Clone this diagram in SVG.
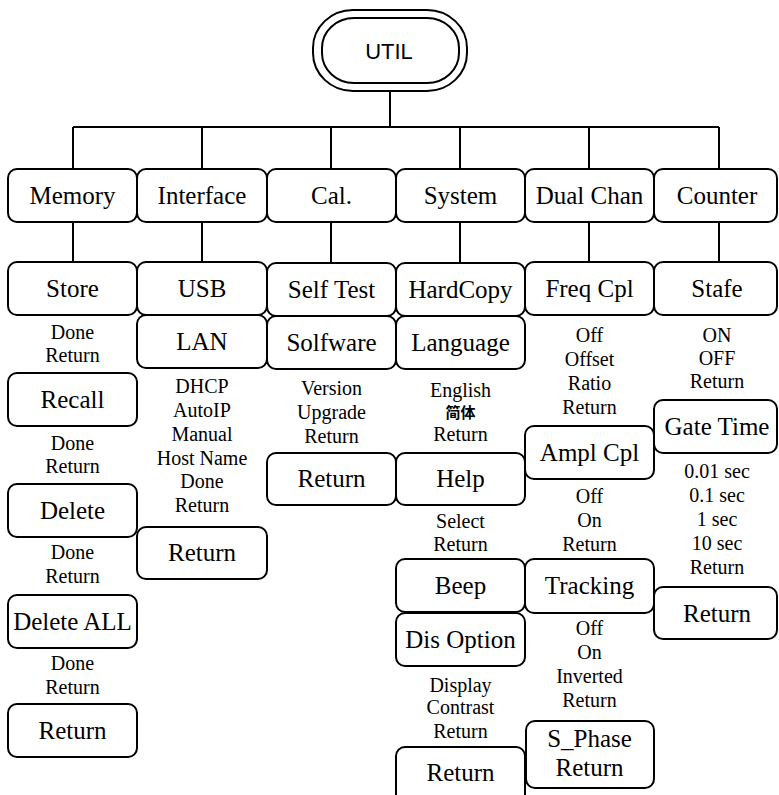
<svg xmlns="http://www.w3.org/2000/svg" width="779" height="795" viewBox="0 0 779 795">
<style>
.b{fill:#fff;stroke:#000;stroke-width:2}
.c{fill:none;stroke:#000;stroke-width:2}
text{font-family:"Liberation Serif","Times New Roman",serif;text-anchor:middle;fill:#000}
.t{font-size:25px}
.s{font-size:20px}
.u{font-family:"Liberation Sans",Arial,sans-serif;font-size:22px}
.cjk{font-family:"Noto Sans CJK SC",sans-serif;font-size:15px;font-weight:bold}
</style>
<rect width="779" height="795" fill="#fff"/>
<g id="connectors">
<path class="c" d="M390 91V127M73 127H719M73 127V169M202 127V169M331 127V169M460 127V169M589 127V169M719 127V169"/>
<path class="c" d="M73 222V262M202 222V262M331 222V263M460 222V263M589 222V262M719 222V262"/>
</g>
<g id="util">
<rect class="b" x="313" y="10" width="154" height="81" rx="40" ry="38"/>
<rect class="b" x="322" y="18" width="137" height="65" rx="32" ry="30"/>
<text class="u" x="389" y="59">UTIL</text>
</g>
<g id="memory"><rect class="b" x="8" y="169" width="129" height="53" rx="9"/><text class="t" x="72.5" y="204">Memory</text></g>
<g id="interface"><rect class="b" x="137" y="169" width="130" height="53" rx="9"/><text class="t" x="202" y="204">Interface</text></g>
<g id="cal"><rect class="b" x="267" y="169" width="129" height="53" rx="9"/><text class="t" x="331.5" y="204">Cal.</text></g>
<g id="system"><rect class="b" x="396" y="169" width="129" height="53" rx="9"/><text class="t" x="460.5" y="204">System</text></g>
<g id="dualchan"><rect class="b" x="525" y="169" width="129" height="53" rx="9"/><text class="t" x="589.5" y="204">Dual Chan</text></g>
<g id="counter"><rect class="b" x="654" y="169" width="123" height="53" rx="9"/><text class="t" x="717" y="204">Counter</text></g>

<g id="store"><rect class="b" x="8" y="262" width="129" height="53" rx="9"/><text class="t" x="72.5" y="297">Store</text></g>
<g id="store-opts"><text class="s" x="72.5" y="339">Done</text><text class="s" x="72.5" y="362">Return</text></g>
<g id="recall"><rect class="b" x="8" y="373" width="129" height="53" rx="9"/><text class="t" x="72.5" y="408">Recall</text></g>
<g id="recall-opts"><text class="s" x="72.5" y="450">Done</text><text class="s" x="72.5" y="473">Return</text></g>
<g id="delete"><rect class="b" x="8" y="484" width="129" height="53" rx="9"/><text class="t" x="72.5" y="519">Delete</text></g>
<g id="delete-opts"><text class="s" x="72.5" y="559">Done</text><text class="s" x="72.5" y="583">Return</text></g>
<g id="deleteall"><rect class="b" x="8" y="595" width="129" height="53" rx="9"/><text class="t" x="72.5" y="630">Delete ALL</text></g>
<g id="deleteall-opts"><text class="s" x="72.5" y="670">Done</text><text class="s" x="72.5" y="694">Return</text></g>
<g id="mem-return"><rect class="b" x="8" y="704" width="129" height="53" rx="9"/><text class="t" x="72.5" y="739">Return</text></g>

<g id="usb"><rect class="b" x="137" y="262" width="130" height="53" rx="9"/><text class="t" x="202" y="297">USB</text></g>
<g id="lan"><rect class="b" x="137" y="315" width="130" height="53" rx="9"/><text class="t" x="202" y="350">LAN</text></g>
<g id="lan-opts"><text class="s" x="202" y="393">DHCP</text><text class="s" x="202" y="417">AutoIP</text><text class="s" x="202" y="441">Manual</text><text class="s" x="202" y="465">Host Name</text><text class="s" x="202" y="488">Done</text><text class="s" x="202" y="512">Return</text></g>
<g id="if-return"><rect class="b" x="137" y="527" width="130" height="52" rx="9"/><text class="t" x="202" y="561">Return</text></g>

<g id="selftest"><rect class="b" x="267" y="263" width="129" height="53" rx="9"/><text class="t" x="331.5" y="298">Self Test</text></g>
<g id="solfware"><rect class="b" x="267" y="316" width="129" height="53" rx="9"/><text class="t" x="331.5" y="351">Solfware</text></g>
<g id="solfware-opts"><text class="s" x="331.5" y="395">Version</text><text class="s" x="331.5" y="419">Upgrade</text><text class="s" x="331.5" y="443">Return</text></g>
<g id="cal-return"><rect class="b" x="267" y="453" width="129" height="52" rx="9"/><text class="t" x="331.5" y="487">Return</text></g>

<g id="hardcopy"><rect class="b" x="396" y="263" width="129" height="53" rx="9"/><text class="t" x="460.5" y="298">HardCopy</text></g>
<g id="language"><rect class="b" x="396" y="316" width="129" height="53" rx="9"/><text class="t" x="460.5" y="351">Language</text></g>
<g id="language-opts"><text class="s" x="460.5" y="397">English</text><text class="cjk" x="460.5" y="418">简体</text><text class="s" x="460.5" y="441">Return</text></g>
<g id="help"><rect class="b" x="396" y="453" width="129" height="52" rx="9"/><text class="t" x="460.5" y="487">Help</text></g>
<g id="help-opts"><text class="s" x="460.5" y="528">Select</text><text class="s" x="460.5" y="551">Return</text></g>
<g id="beep"><rect class="b" x="396" y="559" width="129" height="53" rx="9"/><text class="t" x="460.5" y="594">Beep</text></g>
<g id="disoption"><rect class="b" x="396" y="613" width="129" height="53" rx="9"/><text class="t" x="460.5" y="648">Dis Option</text></g>
<g id="disoption-opts"><text class="s" x="460.5" y="692">Display</text><text class="s" x="460.5" y="714">Contrast</text><text class="s" x="460.5" y="738">Return</text></g>
<g id="sys-return"><rect class="b" x="396" y="747" width="129" height="60" rx="9"/><text class="t" x="460.5" y="781">Return</text></g>

<g id="freqcpl"><rect class="b" x="525" y="262" width="129" height="53" rx="9"/><text class="t" x="589.5" y="297">Freq Cpl</text></g>
<g id="freqcpl-opts"><text class="s" x="589.5" y="342">Off</text><text class="s" x="589.5" y="366">Offset</text><text class="s" x="589.5" y="390">Ratio</text><text class="s" x="589.5" y="414">Return</text></g>
<g id="amplcpl"><rect class="b" x="525" y="426" width="129" height="53" rx="9"/><text class="t" x="589.5" y="461">Ampl Cpl</text></g>
<g id="amplcpl-opts"><text class="s" x="589.5" y="503">Off</text><text class="s" x="589.5" y="527">On</text><text class="s" x="589.5" y="551">Return</text></g>
<g id="tracking"><rect class="b" x="525" y="559" width="129" height="54" rx="9"/><text class="t" x="589.5" y="594">Tracking</text></g>
<g id="tracking-opts"><text class="s" x="589.5" y="635">Off</text><text class="s" x="589.5" y="659">On</text><text class="s" x="589.5" y="683">Inverted</text><text class="s" x="589.5" y="707">Return</text></g>
<g id="sphase"><rect class="b" x="526" y="721" width="128" height="67" rx="9"/><text class="t" x="589.5" y="747">S_Phase</text><text class="t" x="589.5" y="776">Return</text></g>

<g id="stafe"><rect class="b" x="654" y="262" width="123" height="53" rx="9"/><text class="t" x="717" y="297">Stafe</text></g>
<g id="stafe-opts"><text class="s" x="717" y="342">ON</text><text class="s" x="717" y="365">OFF</text><text class="s" x="717" y="388">Return</text></g>
<g id="gatetime"><rect class="b" x="654" y="400" width="123" height="53" rx="9"/><text class="t" x="717" y="435">Gate Time</text></g>
<g id="gatetime-opts"><text class="s" x="717" y="478">0.01 sec</text><text class="s" x="717" y="502">0.1 sec</text><text class="s" x="717" y="526">1 sec</text><text class="s" x="717" y="550">10 sec</text><text class="s" x="717" y="574">Return</text></g>
<g id="cnt-return"><rect class="b" x="654" y="587" width="123" height="52" rx="9"/><text class="t" x="717" y="622">Return</text></g>
</svg>
